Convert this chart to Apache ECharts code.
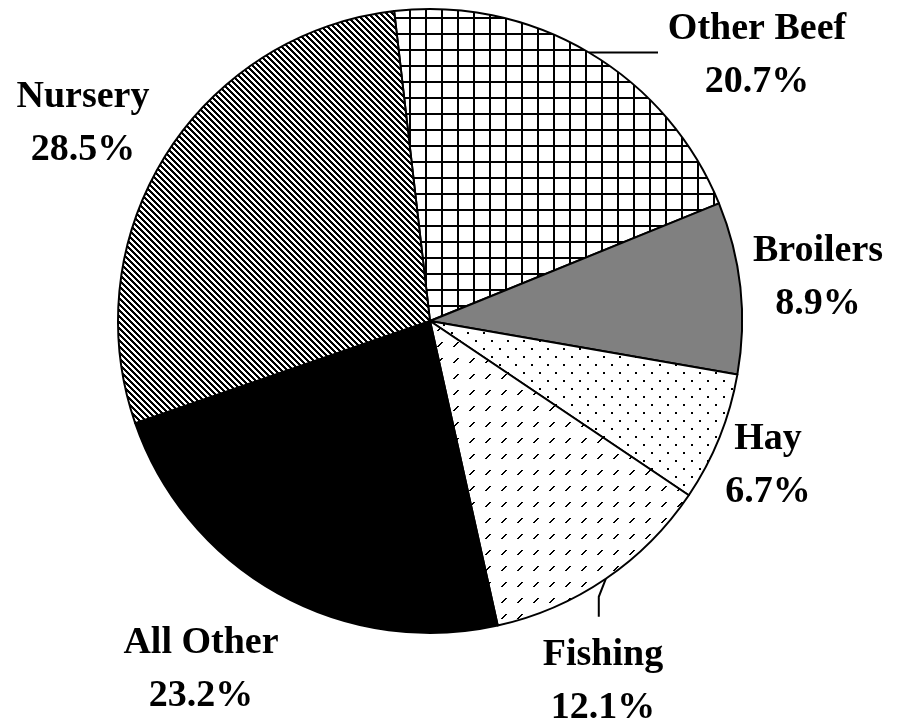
<!DOCTYPE html>
<html>
<head>
<meta charset="utf-8">
<script src="https://cdn.jsdelivr.net/npm/echarts@6/dist/echarts.min.js"></script>
<style>
  html, body { margin: 0; padding: 0; background: #fff; }
  #chart { width: 898px; height: 727px; }
</style>
</head>
<body>
<div id="chart"></div>
<script>
// data, clockwise from the top
const categories = ['Other Beef', 'Broilers', 'Hay', 'Fishing', 'All Other', 'Nursery'];
const shares = [20.7, 8.9, 6.7, 12.1, 23.2, 28.5];
const leaderNames = ['Other Beef', 'Fishing'];

// label block centres (px)
const labelPos = [[757, 56], [818, 278], [768, 466], [603, 682], [201, 670], [83, 124]];

// small canvas tiles used as fill patterns
const makeTile = (w, h, draw) => {
  const c = document.createElement('canvas');
  c.width = w; c.height = h;
  const ctx = c.getContext('2d');
  ctx.fillStyle = '#fff';
  ctx.fillRect(0, 0, w, h);
  ctx.fillStyle = '#000';
  draw(ctx);
  return { image: c, repeat: 'repeat' };
};

const gridFill = makeTile(16, 16, (ctx) => {
  ctx.fillRect(9, 0, 2, 16);
  ctx.fillRect(0, 1, 16, 2);
});
const dotFill = makeTile(16, 16, (ctx) => {
  ctx.fillRect(11, 4, 2, 2);
  ctx.fillRect(3, 12, 2, 2);
});
const dashFill = makeTile(16, 16, (ctx) => {
  for (let i = 0; i < 5; i++) ctx.fillRect(5 + i, 10 - i, 2, 1);
});
const hatchFill = makeTile(6, 6, (ctx) => {
  for (let y = 0; y < 6; y++) {
    for (let x = 0; x < 6; x++) {
      const k = ((x - y) % 6 + 6) % 6;
      if (k < 3) ctx.fillRect(x, y, 1, 1);
    }
  }
});

const fills = [gridFill, '#808080', dotFill, dashFill, '#000000', hatchFill];

var chartDom = document.getElementById('chart');
var myChart = echarts.init(chartDom, null, { renderer: 'canvas' });

var seriesData = categories.map((name, i) => ({
  name: name,
  value: shares[i],
  itemStyle: { color: fills[i] },
  labelLine: { show: leaderNames.includes(name) },
}));

var option = {
  backgroundColor: '#fff',
  animation: false,
  series: [
    {
      type: 'pie',
      center: [430, 321],
      radius: 312,
      startAngle: 96.6,
      clockwise: true,
      avoidLabelOverlap: false,
      itemStyle: {
        borderColor: '#000',
        borderWidth: 2,
      },
      emphasis: { disabled: true },
      label: {
        show: true,
        position: 'outside',
        formatter: (p) => p.name + '\n' + p.value.toFixed(1) + '%',
        fontFamily: 'Liberation Serif',
        fontWeight: 'bold',
        fontSize: 38,
        lineHeight: 53,
        color: '#000',
        align: 'center',
      },
      labelLine: {
        show: false,
        length: 10,
        length2: 10,
        lineStyle: { color: '#000', width: 2 },
      },
      labelLayout: (params) => {
        const p = labelPos[params.dataIndex];
        const out = { x: p[0], y: p[1], align: 'center', verticalAlign: 'middle' };
        const pts = params.labelLinePoints;
        if (pts && pts.length) {
          const a = pts[0];
          if (params.dataIndex === 0) {
            out.labelLinePoints = [a, [658, a[1]]];
          } else if (params.dataIndex === 3) {
            out.labelLinePoints = [a, [a[0] - 7, a[1] + 18], [a[0] - 7, a[1] + 38]];
          }
        }
        return out;
      },
      data: seriesData,
    },
  ],
};

option && myChart.setOption(option);
</script>
</body>
</html>
